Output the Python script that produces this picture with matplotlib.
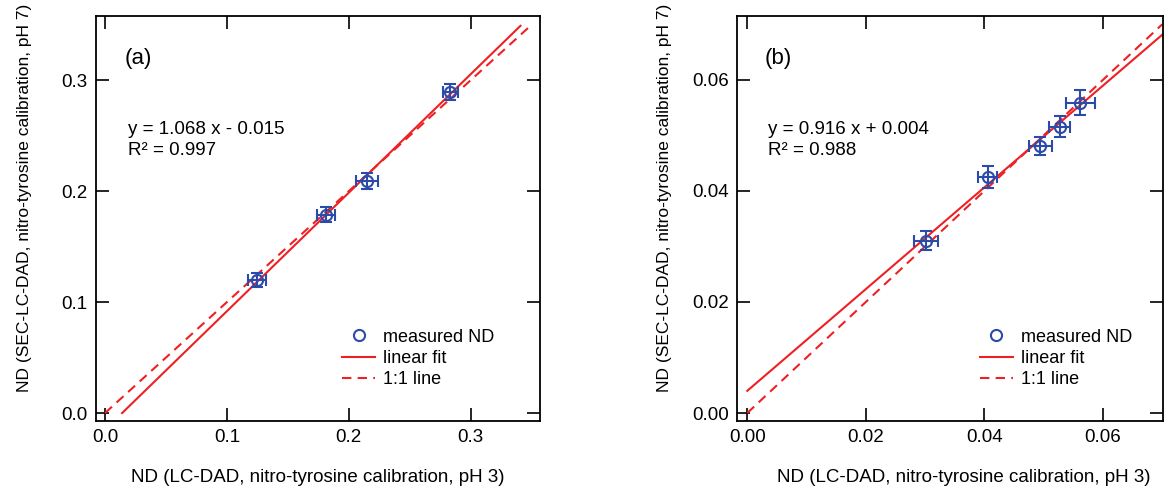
import numpy as np
import matplotlib
matplotlib.use('Agg')
import matplotlib.pyplot as plt

plt.rcParams['font.family'] = ['Liberation Sans', 'DejaVu Sans']

# panel (a)
a_x = [0.125, 0.181, 0.215, 0.2835]
a_y = [0.120, 0.179, 0.209, 0.2895]
a_xerr = [0.0073, 0.0074, 0.009, 0.006]
a_yerr = [0.006, 0.0068, 0.007, 0.0072]
a_slope, a_icpt = 1.068, -0.015
a_fit_range = [0.014, 0.341]
a_one_range = [0.0, 0.350]
a_ticks = [0.0, 0.1, 0.2, 0.3]
a_ticklabels = ['0.0', '0.1', '0.2', '0.3']

# panel (b)
b_x = [0.0302, 0.0406, 0.04945, 0.0527, 0.0562]
b_y = [0.0310, 0.04247, 0.0481, 0.0516, 0.0559]
b_xerr = [0.002, 0.0016, 0.002, 0.0018, 0.0025]
b_yerr = [0.0017, 0.002, 0.0017, 0.0019, 0.0023]
b_slope, b_icpt = 0.916, 0.004
b_fit_range = [0.0, 0.0702]
b_one_range = [0.0, 0.0700]
b_ticks = [0.00, 0.02, 0.04, 0.06]
b_ticklabels = ['0.00', '0.02', '0.04', '0.06']

BLUE = '#2B4BA8'
RED = '#EE2024'
FS = 13.5


def draw_panel(ax, x, y, xerr, yerr, slope, icpt, fit_range, one_range,
               ticks, ticklabels, xlim, ylim, tag, eq, r2, leg_x, xlab_x, ylab_x):
    ax.errorbar(x, y, xerr=xerr, yerr=yerr, fmt='none', ecolor=BLUE,
                elinewidth=1.5, capsize=4.5, capthick=1.5, zorder=3)
    ax.plot(x, y, 'o', mfc='none', mec=BLUE, mew=1.5, ms=8,
            label='measured ND', zorder=4)
    fx = np.array(fit_range)
    ax.plot(fx, slope * fx + icpt, '-', color=RED, lw=1.5, label='linear fit', zorder=2)
    ox = np.array(one_range)
    ax.plot(ox, ox, '--', color=RED, lw=1.5, dashes=(4.5, 3), label='1:1 line', zorder=2)

    ax.set_xlim(xlim)
    ax.set_ylim(ylim)
    ax.set_xticks(ticks)
    ax.set_xticklabels(ticklabels)
    ax.set_yticks(ticks)
    ax.set_yticklabels(ticklabels)
    ax.tick_params(direction='in', length=9.5, width=1.2, top=True, right=True,
                   labelsize=FS, pad=6)
    for s in ax.spines.values():
        s.set_linewidth(1.3)

    ax.text(0.065, 0.895, tag, transform=ax.transAxes, fontsize=16, va='center')
    ax.text(0.072, 0.72, eq, transform=ax.transAxes, fontsize=FS, va='center')
    ax.text(0.072, 0.668, r2, transform=ax.transAxes, fontsize=FS, va='center')

    ax.set_xlabel('ND (LC-DAD, nitro-tyrosine calibration, pH 3)', fontsize=FS)
    ax.set_ylabel('ND (SEC-LC-DAD, nitro-tyrosine calibration, pH 7)', fontsize=12.5)
    ax.xaxis.set_label_coords(xlab_x, -0.118)
    ax.yaxis.set_label_coords(ylab_x, 0.552)

    ax.legend(loc='upper left', bbox_to_anchor=(leg_x, 0.228), frameon=False,
              fontsize=13, handlelength=1.85, handletextpad=0.45,
              labelspacing=0.23, borderpad=0, borderaxespad=0, numpoints=1)


fig = plt.figure(figsize=(11.65, 4.93), dpi=100)
ax1 = fig.add_axes([0.0824, 0.146, 0.3811, 0.8215])
ax2 = fig.add_axes([0.6326, 0.146, 0.3660, 0.8215])

draw_panel(ax1, a_x, a_y, a_xerr, a_yerr, a_slope, a_icpt, a_fit_range, a_one_range,
           a_ticks, a_ticklabels, (-0.0074, 0.357), (-0.0072, 0.358), '(a)',
           'y = 1.068 x - 0.015', 'R² = 0.997', 0.554, 0.5, -0.144)
draw_panel(ax2, b_x, b_y, b_xerr, b_yerr, b_slope, b_icpt, b_fit_range, b_one_range,
           b_ticks, b_ticklabels, (-0.00174, 0.0702), (-0.00144, 0.0715), '(b)',
           'y = 0.916 x + 0.004', 'R² = 0.988', 0.569, 0.532, -0.152)

fig.savefig('out.png', dpi=100)
